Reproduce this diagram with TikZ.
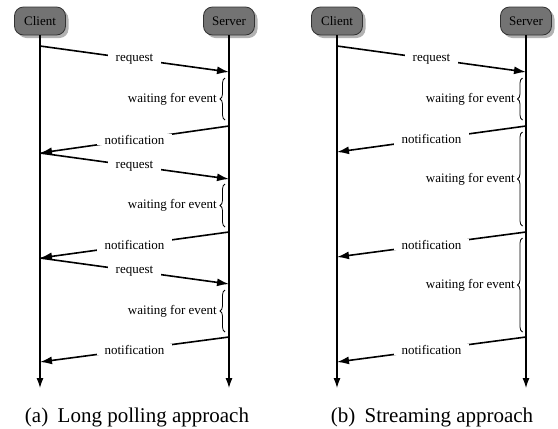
\documentclass[tikz,border=0pt]{standalone}
\usepackage{fontspec}
\setmainfont{Liberation Serif}
\usetikzlibrary{arrows.meta,decorations.pathreplacing,shadows,positioning}

\begin{document}
\begin{tikzpicture}[
  x=1pt, y=-1pt,
  actor/.style={rectangle, rounded corners=9pt, draw=black!80, fill=black!55, thick,
    minimum width=51pt, minimum height=28pt, inner sep=0pt, font=\rmfamily\fontsize{13}{15}\selectfont,
    drop shadow={shadow xshift=3pt, shadow yshift=-3pt, fill=black!30, opacity=1}},
  life/.style={line width=1.1pt, -{Latex[length=10pt,width=7pt]}},
  msg/.style={line width=1.6pt, -{Latex[length=12pt,width=8pt]}},
  msg label/.style={fill=white, inner xsep=8pt, inner ysep=1pt, font=\rmfamily\fontsize{13}{15}\selectfont},
  wait/.style={decorate, decoration={brace, amplitude=5pt}, line width=0.8pt},
  wait label/.style={anchor=east, inner sep=1pt, font=\rmfamily\fontsize{13}{15}\selectfont},
  caption/.style={anchor=base, font=\rmfamily\fontsize{21}{25}\selectfont}
]
  \useasboundingbox (0,0) rectangle (558,429);

  % (a) long polling
  \node[actor] (cA) at (40, 21)  {Client};
  \node[actor] (sA) at (229, 21) {Server};
  \coordinate (cA end) at (40, 388);
  \coordinate (sA end) at (229, 388);
  \draw[life] (cA) -- (cA end);
  \draw[life] (sA) -- (sA end);

  \coordinate (cA1) at (40, 46);   \coordinate (sA1) at (229, 72);
  \coordinate (sA2) at (229, 126); \coordinate (cA2) at (40, 153);
  \coordinate (sA3) at (229, 179);
  \coordinate (sA4) at (229, 232); \coordinate (cA4) at (40, 258);
  \coordinate (sA5) at (229, 284);
  \coordinate (sA6) at (229, 337); \coordinate (cA6) at (40, 362);

  \draw[msg] (cA1) -- node[msg label] {request} (sA1);
  \draw[msg] (sA2) -- node[msg label] {notification} (cA2);
  \draw[msg] (cA2) -- node[msg label] {request} (sA3);
  \draw[msg] (sA4) -- node[msg label] {notification} (cA4);
  \draw[msg] (cA4) -- node[msg label] {request} (sA5);
  \draw[msg] (sA6) -- node[msg label] {notification} (cA6);

  \draw[wait] (225, 120) -- (225, 78);
  \draw[wait] (225, 227) -- (225, 184);
  \draw[wait] (225, 332) -- (225, 290);
  \node[wait label] (wA1) at (218, 99)  {waiting for event};
  \node[wait label] (wA2) at (218, 205) {waiting for event};
  \node[wait label] (wA3) at (218, 311) {waiting for event};

  \node[caption] (capA) at (137, 422) {(a)\hspace{0.45em}Long polling approach};

  % (b) streaming
  \node[actor] (cB) at (337, 21) {Client};
  \node[actor] (sB) at (526, 21) {Server};
  \coordinate (cB end) at (337, 388);
  \coordinate (sB end) at (526, 388);
  \draw[life] (cB) -- (cB end);
  \draw[life] (sB) -- (sB end);

  \coordinate (cB1) at (337, 46);  \coordinate (sB1) at (526, 72);
  \coordinate (sB2) at (526, 126); \coordinate (cB2) at (337, 152);
  \coordinate (sB3) at (526, 232); \coordinate (cB3) at (337, 257);
  \coordinate (sB4) at (526, 337); \coordinate (cB4) at (337, 362);

  \draw[msg] (cB1) -- node[msg label] {request} (sB1);
  \draw[msg] (sB2) -- node[msg label] {notification} (cB2);
  \draw[msg] (sB3) -- node[msg label] {notification} (cB3);
  \draw[msg] (sB4) -- node[msg label] {notification} (cB4);

  \draw[wait] (522.5, 120) -- (522.5, 78);
  \draw[wait] (522.5, 226) -- (522.5, 132);
  \draw[wait] (522.5, 332) -- (522.5, 238);
  \node[wait label] (wB1) at (516, 99)  {waiting for event};
  \node[wait label] (wB2) at (516, 179) {waiting for event};
  \node[wait label] (wB3) at (516, 285) {waiting for event};

  \node[caption] (capB) at (432, 422) {(b)\hspace{0.45em}Streaming approach};
\end{tikzpicture}
\end{document}
